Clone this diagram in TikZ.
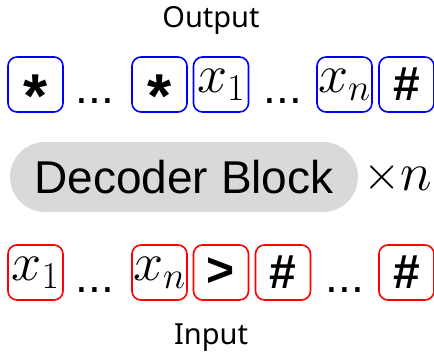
\documentclass[tikz,border=0pt]{standalone}
\usepackage{fix-cm}
\usepackage{fontspec}
\setmainfont{Liberation Sans}
\newfontfamily\notosans{Noto Sans}
\newcommand\startok{\smash{\raisebox{-0.53em}{*}}}

\tikzset{
 tok/.style={draw,rounded corners=9pt,line width=1.6pt,minimum width=55pt,minimum height=55pt,inner sep=0pt,font=\fontsize{48}{48}\selectfont\bfseries},
 outtok/.style={tok,draw=blue},
 intok/.style={tok,draw=red},
 startk/.style={font=\fontsize{62}{62}\selectfont\bfseries},
 mathtok/.style={font=\fontsize{54}{54}\selectfont},
 dots/.style={anchor=base,inner sep=0pt,font=\fontsize{46}{46}\selectfont},
 caption/.style={anchor=base,inner sep=0pt,font=\notosans\fontsize{29}{29}\selectfont},
}

\begin{document}
\begin{tikzpicture}[x=1pt,y=-1pt]
 \useasboundingbox (0,0) rectangle (434,353);

 % output row
 \node[caption] (out) at (211,28) {Output};
 \node[outtok,startk] (o1) at (35.5,84.5) {\startok};
 \node[dots] (od1) at (95,103) {...};
 \node[outtok,startk] (o2) at (159.5,84.5) {\startok};
 \node[outtok,mathtok] (o3) at (221,84.5) {$x_1$};
 \node[dots] (od2) at (283,103) {...};
 \node[outtok,mathtok] (o4) at (344.5,84.5) {$x_n$};
 \node[outtok] (o5) at (406.5,84.5) {\#};

 % decoder block
 \node[fill=black!15,rounded corners=35pt,minimum width=348pt,minimum height=70pt,inner sep=0pt,font=\fontsize{46}{46}\selectfont] (dec) at (184,177) {Decoder Block};
 \node[anchor=base,inner sep=0pt,font=\fontsize{54}{54}\selectfont] (rep) at (398,190) {\raisebox{1pt}{\fontsize{48}{48}\selectfont$\times$}$n$};

 % input row
 \node[intok,mathtok] (i1) at (35.5,272.5) {$x_1$};
 \node[dots] (id1) at (95,292) {...};
 \node[intok,mathtok] (i2) at (159.5,272.5) {$x_n$};
 \node[intok] (i3) at (221,272.5) {>};
 \node[intok] (i4) at (283,272.5) {\#};
 \node[dots] (id2) at (345,292) {...};
 \node[intok] (i5) at (406.5,272.5) {\#};
 \node[caption] (in) at (211,344) {Input};
\end{tikzpicture}
\end{document}
